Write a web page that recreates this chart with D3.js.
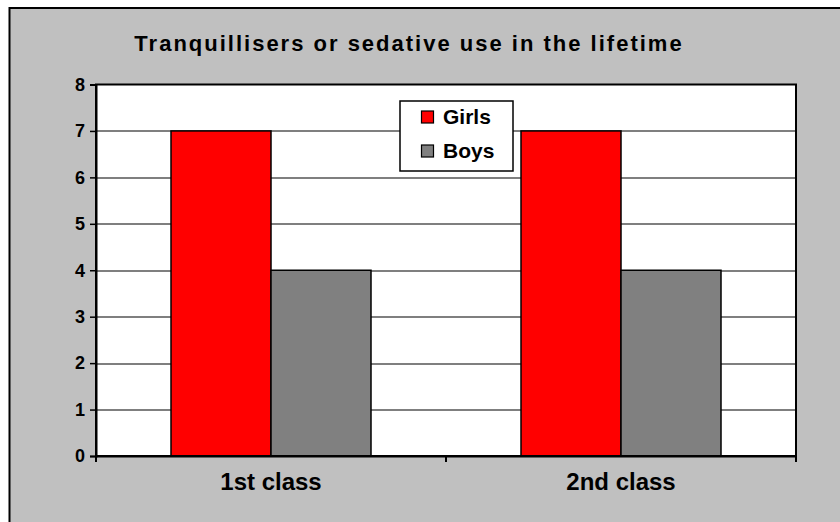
<!DOCTYPE html>
<html>
<head>
<meta charset="utf-8">
<script src="https://cdn.jsdelivr.net/npm/d3@7"></script>
<style>
  body { margin: 0; background: #fff; }
  text { font-family: "Liberation Sans", Arial, sans-serif; font-weight: bold; fill: #000; }
</style>
</head>
<body>
<script>
// data
var categories = ["1st class", "2nd class"];
var series = ["Girls", "Boys"];
var girls = [7, 7];
var boys = [4, 4];
var yTicks = [0, 1, 2, 3, 4, 5, 6, 7, 8];
var colors = ["#FF0000", "#808080"];
var title = "Tranquillisers or sedative use in the lifetime";

var W = 840, H = 522;
var margin = {top: 84.5, right: 44, bottom: 66, left: 96},
    width = W - margin.left - margin.right,
    height = H - margin.top - margin.bottom;

var svgRoot = d3.select("body")
  .append("svg")
    .attr("width", W)
    .attr("height", H);

// outer chart frame
svgRoot.append("rect")
  .attr("x", 9.5)
  .attr("y", 8)
  .attr("width", W + 10)
  .attr("height", H + 10)
  .style("fill", "#C0C0C0")
  .style("stroke", "#000")
  .style("stroke-width", 2);

// title
svgRoot.append("text")
  .attr("x", 409)
  .attr("y", 51)
  .attr("text-anchor", "middle")
  .style("font-size", "22px")
  .style("letter-spacing", "2px")
  .text(title);

var svg = svgRoot.append("g")
  .attr("transform", "translate(" + margin.left + "," + margin.top + ")");

// scales
var x = d3.scaleBand()
  .domain(categories)
  .range([0, width])
  .paddingInner(0)
  .paddingOuter(0);

var xSub = d3.scaleBand()
  .domain(series)
  .range([0, x.bandwidth()])
  .paddingInner(0)
  .paddingOuter(0.75);

var y = d3.scaleLinear()
  .domain([0, 8])
  .range([height, 0]);

var color = d3.scaleOrdinal()
  .domain(series)
  .range(colors);

// plot area background
svg.append("rect")
  .attr("width", width)
  .attr("height", height)
  .style("fill", "#fff");

// gridlines
svg.append("g")
  .selectAll("line")
  .data(yTicks.filter(function(d) { return d > 0 && d < 8; }))
  .enter()
  .append("line")
    .attr("x1", 0)
    .attr("x2", width)
    .attr("y1", function(d) { return Math.round(y(d)) + 0.5; })
    .attr("y2", function(d) { return Math.round(y(d)) + 0.5; })
    .style("stroke", "#000")
    .style("stroke-width", 1.2);

// bars
var rows = categories.map(function(c, i) {
  return {category: c, values: [{key: "Girls", value: girls[i]}, {key: "Boys", value: boys[i]}]};
});

svg.append("g")
  .selectAll("g")
  .data(rows)
  .enter()
  .append("g")
    .attr("transform", function(d) { return "translate(" + x(d.category) + ",0)"; })
  .selectAll("rect")
  .data(function(d) { return d.values; })
  .enter()
  .append("rect")
    .attr("x", function(d) { return xSub(d.key); })
    .attr("y", function(d) { return y(d.value); })
    .attr("width", xSub.bandwidth())
    .attr("height", function(d) { return height - y(d.value); })
    .style("fill", function(d) { return color(d.key); })
    .style("stroke", "#000")
    .style("stroke-width", 1.5);

// plot border
svg.append("rect")
  .attr("width", width)
  .attr("height", height)
  .style("fill", "none")
  .style("stroke", "#000")
  .style("stroke-width", 2);

// Y axis
var yAxis = svg.append("g")
  .call(d3.axisLeft(y).tickValues(yTicks).tickSize(6).tickPadding(5).tickFormat(d3.format("d")));
yAxis.select(".domain").attr("stroke", "#000").attr("stroke-width", 2);
yAxis.selectAll(".tick line").attr("stroke", "#000").attr("stroke-width", 1.5);
yAxis.selectAll("text")
  .style("font-size", "18px")
  .attr("fill", "#000");

// X axis: ticks at category boundaries
var xAxis = svg.append("g")
  .attr("transform", "translate(0," + height + ")")
  .call(d3.axisBottom(x).tickSize(0).tickPadding(17));
xAxis.select(".domain").attr("stroke", "#000").attr("stroke-width", 2);
xAxis.selectAll("text")
  .style("font-size", "24px")
  .attr("fill", "#000");

var bounds = [0].concat(categories.map(function(c) { return x(c) + x.bandwidth(); }));
xAxis.selectAll(".bound")
  .data(bounds)
  .enter()
  .append("line")
    .attr("class", "bound")
    .attr("x1", function(d) { return d; })
    .attr("x2", function(d) { return d; })
    .attr("y1", 0)
    .attr("y2", 6)
    .style("stroke", "#000")
    .style("stroke-width", 2);

// legend
var legend = svgRoot.append("g")
  .attr("transform", "translate(400,101)");

legend.append("rect")
  .attr("width", 113)
  .attr("height", 70)
  .style("fill", "#fff")
  .style("stroke", "#000")
  .style("stroke-width", 1.5);

var item = legend.selectAll(".item")
  .data(series)
  .enter()
  .append("g")
    .attr("class", "item")
    .attr("transform", function(d, i) { return "translate(0," + (16 + i * 34) + ")"; });

item.append("rect")
  .attr("x", 21.5)
  .attr("y", -6)
  .attr("width", 12)
  .attr("height", 12)
  .style("fill", function(d) { return color(d); })
  .style("stroke", "#000")
  .style("stroke-width", 1.2);

item.append("text")
  .attr("x", 43)
  .attr("y", 0)
  .attr("dy", "0.35em")
  .style("font-size", "21px")
  .text(function(d) { return d; });
</script>
</body>
</html>
